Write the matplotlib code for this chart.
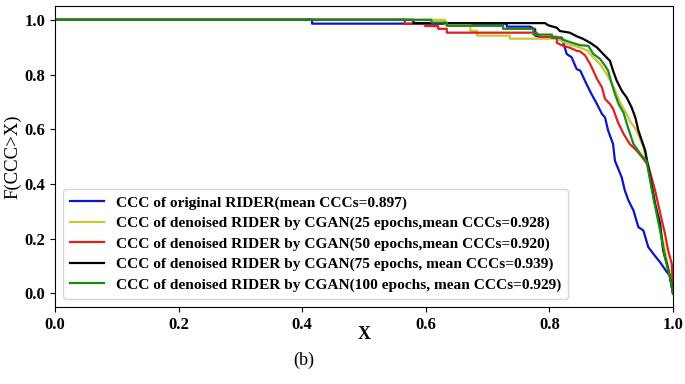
import matplotlib
matplotlib.use("Agg")
import matplotlib.pyplot as plt

plt.rcParams["font.family"] = ["Liberation Serif", "DejaVu Serif"]

# Survival curves F(CCC > X) for the original and denoised RIDER scans
blue_x = [0.0, 0.416, 0.416, 0.731, 0.731, 0.769, 0.777, 0.777, 0.788, 0.820,
          0.828, 0.836, 0.844, 0.850, 0.860, 0.868, 0.877, 0.885, 0.890, 0.895,
          0.903, 0.906, 0.917, 0.922, 0.928, 0.936, 0.944, 0.952, 0.960, 0.968,
          0.979, 0.990, 0.995, 1.0]
blue_y = [1.0, 1.0, 0.986, 0.986, 0.975, 0.975, 0.965, 0.942, 0.935, 0.935,
          0.875, 0.863, 0.820, 0.814, 0.765, 0.729, 0.692, 0.656, 0.643, 0.595,
          0.546, 0.485, 0.424, 0.376, 0.339, 0.303, 0.242, 0.230, 0.169, 0.145,
          0.114, 0.078, 0.066, 0.0]

yellow_x = [0.0, 0.631, 0.631, 0.672, 0.672, 0.683, 0.683, 0.736, 0.736, 0.812,
            0.830, 0.849, 0.862, 0.868, 0.882, 0.893, 0.903, 0.914, 0.925, 0.930,
            0.941, 0.952, 0.957, 0.974, 0.990, 0.998, 1.0]
yellow_y = [1.0, 1.0, 0.983, 0.983, 0.960, 0.960, 0.942, 0.942, 0.931, 0.931,
            0.911, 0.899, 0.887, 0.869, 0.838, 0.800, 0.760, 0.700, 0.656, 0.631,
            0.595, 0.534, 0.485, 0.300, 0.120, 0.036, 0.0]

red_x = [0.0, 0.566, 0.566, 0.599, 0.599, 0.620, 0.620, 0.634, 0.634, 0.779,
         0.785, 0.812, 0.812, 0.822, 0.833, 0.844, 0.850, 0.858, 0.866, 0.871,
         0.877, 0.885, 0.890, 0.898, 0.903, 0.911, 0.920, 0.930, 0.941, 0.952,
         0.960, 0.971, 0.982, 0.987, 0.992, 0.998, 1.0]
red_y = [1.0, 1.0, 0.985, 0.985, 0.977, 0.977, 0.967, 0.967, 0.953, 0.953,
         0.938, 0.938, 0.916, 0.905, 0.898, 0.887, 0.884, 0.869, 0.838, 0.814,
         0.784, 0.753, 0.711, 0.692, 0.675, 0.625, 0.583, 0.546, 0.522, 0.492,
         0.467, 0.376, 0.266, 0.218, 0.157, 0.108, 0.0]

black_x = [0.0, 0.580, 0.580, 0.793, 0.798, 0.812, 0.817, 0.833, 0.844, 0.854,
           0.866, 0.877, 0.887, 0.898, 0.903, 0.909, 0.917, 0.925, 0.933, 0.939,
           0.944, 0.955, 0.963, 0.971, 0.979, 0.984, 0.990, 0.995, 1.0]
black_y = [1.0, 1.0, 0.988, 0.988, 0.980, 0.971, 0.959, 0.953, 0.940, 0.931,
           0.916, 0.899, 0.875, 0.850, 0.814, 0.777, 0.741, 0.716, 0.680, 0.643,
           0.595, 0.522, 0.424, 0.327, 0.254, 0.157, 0.108, 0.059, 0.0]

green_x = [0.0, 0.609, 0.609, 0.634, 0.634, 0.725, 0.725, 0.774, 0.774, 0.804,
           0.804, 0.817, 0.825, 0.838, 0.850, 0.863, 0.871, 0.882, 0.890, 0.895,
           0.901, 0.906, 0.912, 0.920, 0.928, 0.936, 0.949, 0.957, 0.968, 0.979,
           0.987, 0.995, 1.0]
green_y = [1.0, 1.0, 0.990, 0.990, 0.978, 0.978, 0.967, 0.967, 0.946, 0.946,
           0.934, 0.934, 0.925, 0.915, 0.907, 0.905, 0.875, 0.857, 0.832, 0.814,
           0.765, 0.729, 0.692, 0.660, 0.600, 0.546, 0.504, 0.485, 0.351, 0.230,
           0.132, 0.059, 0.0]

labels = [
    "CCC of original RIDER(mean CCCs=0.897)",
    "CCC of denoised RIDER by CGAN(25 epochs,mean CCCs=0.928)",
    "CCC of denoised RIDER by CGAN(50 epochs,mean CCCs=0.920)",
    "CCC of denoised RIDER by CGAN(75 epochs, mean CCCs=0.939)",
    "CCC of denoised RIDER by CGAN(100 epochs, mean CCCs=0.929)",
]
series = [(blue_x, blue_y), (yellow_x, yellow_y), (red_x, red_y),
          (black_x, black_y), (green_x, green_y)]
colors = ["#0a14c8", "#c8c832", "#e02020", "#000000", "#1a8a1a"]

fig = plt.figure(figsize=(6.85, 3.84), dpi=100)
ax = fig.add_axes([0.0803, 0.2005, 0.9022, 0.7835])

for (xs, ys), c, lab in zip(series, colors, labels):
    ax.plot(xs, ys, color=c, lw=1.6, label=lab)

ax.set_xlim(0, 1.0)
ax.set_ylim(-0.05, 1.05)
ax.set_xticks([0.0, 0.2, 0.4, 0.6, 0.8, 1.0])
ax.set_yticks([0.0, 0.2, 0.4, 0.6, 0.8, 1.0])
for t in ax.get_xticklabels() + ax.get_yticklabels():
    t.set_fontweight("bold")
    t.set_fontsize(12)

ax.set_xlabel("X", fontsize=13, fontweight="bold", labelpad=-5)
ax.set_ylabel("F(CCC>X)", fontsize=13.5, labelpad=2)

leg = ax.legend(loc="lower left", prop={"weight": "bold", "size": 11.1},
                handlelength=2.2, handletextpad=0.75, labelspacing=0.42,
                borderaxespad=0.55, borderpad=0.45)

fig.text(0.444, 0.062, "(b)", fontsize=13, ha="center", va="center")

fig.savefig("out.png", dpi=100)
